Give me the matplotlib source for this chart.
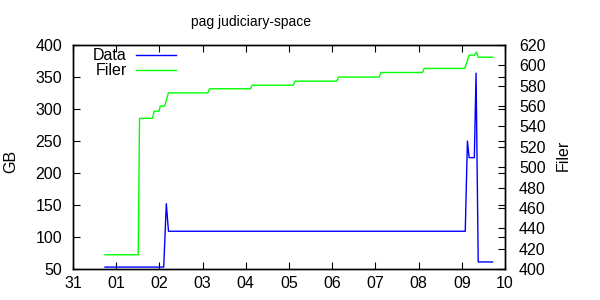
import matplotlib
matplotlib.use("Agg")
import matplotlib.pyplot as plt
from matplotlib.lines import Line2D

plt.rcParams['font.family'] = ['Liberation Sans', 'DejaVu Sans']

title = "pag judiciary-space"
x_ticklabels = ["31", "01", "02", "03", "04", "05", "06", "07", "08", "09", "10"]

data_x = [0.74, 2.10, 2.16, 2.21, 9.08, 9.13, 9.17, 9.29, 9.33, 9.38, 9.71]
data_y = [53, 53, 152, 109, 109, 250, 224, 224, 356, 61, 61]

filer_x = [0.74, 1.51, 1.54, 1.84, 1.88, 1.99, 2.02, 2.12, 2.21, 3.12, 3.16, 4.11, 4.15,
           5.10, 5.14, 6.10, 6.15, 7.09, 7.13, 8.09, 8.13, 9.07, 9.17, 9.29, 9.34, 9.38, 9.72]
filer_y = [414, 414, 548, 548, 555, 555, 560, 560, 573, 573, 577, 577, 580.5,
           580.5, 584.5, 584.5, 588.5, 588.5, 593, 593, 597, 597, 610, 610, 613, 608, 608]

series_names = ["Data", "Filer"]
series_colors = ["#0000ff", "#00ff00"]

W, H = 600, 300
fig = plt.figure(figsize=(6, 3), dpi=100)
ax = fig.add_axes([73/W, 1-269/H, (505-73)/W, (269-45)/H])
ax2 = ax.twinx()

ax.plot(data_x, data_y, color=series_colors[0], lw=1)
ax2.plot(filer_x, filer_y, color=series_colors[1], lw=1)

fs = 11.5
ax.set_xlim(0, 10)
ax.set_ylim(50, 400)
ax2.set_ylim(400, 620)
ax.set_xticks(range(11))
ax.set_xticklabels(x_ticklabels)
ax.set_yticks(range(50, 401, 50))
ax2.set_yticks(range(400, 621, 20))

ax.tick_params(axis='both', direction='in', length=5, width=0.8, labelsize=fs,
               top=True, right=True)
ax.tick_params(axis='y', pad=8)
ax.tick_params(axis='x', pad=5)
ax2.tick_params(axis='y', direction='in', length=5, width=0.8, labelsize=fs, pad=10)
for a in (ax, ax2):
    for s in a.spines.values():
        s.set_linewidth(1)

fig.text(11/W, 1-161/H, "GB", rotation=90, ha='center', va='center', fontsize=11.5)
fig.text(563/W, 1-155/H, "Filer", rotation=90, ha='center', va='center', fontsize=11.5)
fig.text(251/W, 1-22/H, title, ha='center', va='center', fontsize=10)

# manual gnuplot-style legend
for i, (name, col) in enumerate(zip(series_names, series_colors)):
    yy = 1 - (55 + 15*i)/H
    fig.text(127/W, yy, name, ha='right', va='center', fontsize=fs)
    fig.add_artist(Line2D([136/W, 176/W], [yy, yy], color=col, lw=1,
                          transform=fig.transFigure))

fig.savefig("out.png", dpi=100)
